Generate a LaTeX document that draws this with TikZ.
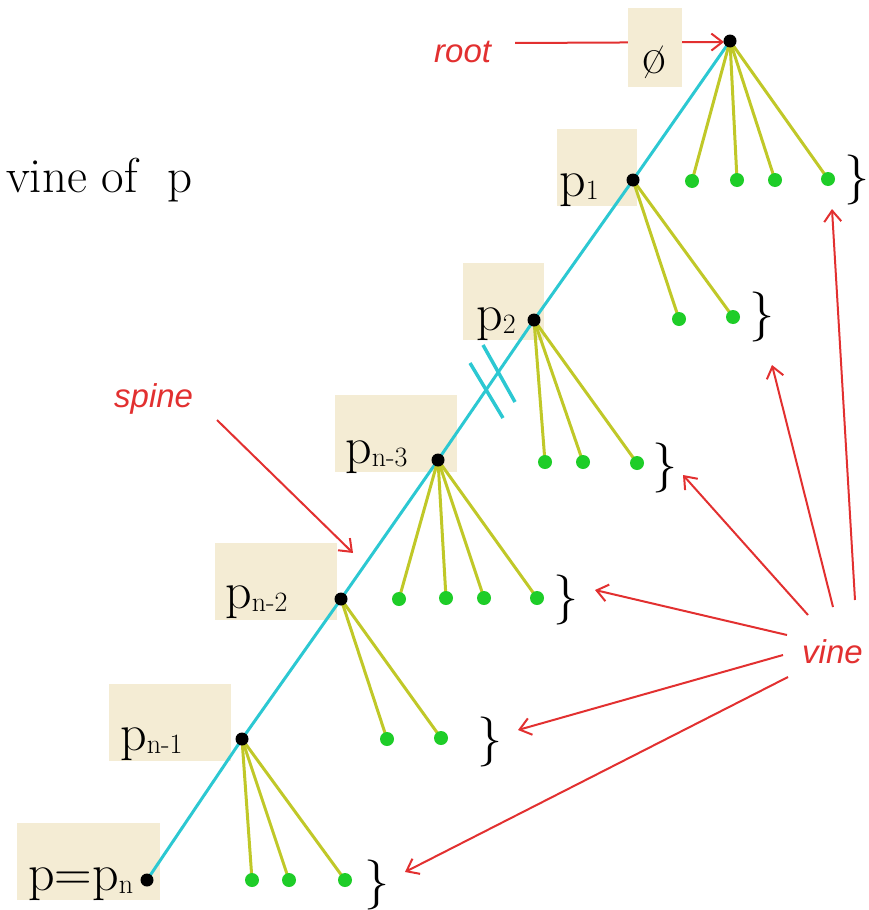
\documentclass[tikz,border=0pt]{standalone}
\usepackage{fontspec}
\newfontfamily\lsans{Liberation Sans}
\usetikzlibrary{arrows.meta}
\definecolor{spinec}{RGB}{44,200,210}
\definecolor{vinec}{RGB}{192,200,40}
\definecolor{leafc}{RGB}{30,205,40}
\definecolor{boxc}{RGB}{244,236,212}
\definecolor{redc}{RGB}{226,48,48}
\tikzset{
  labelbox/.style={fill=boxc,draw=none,inner sep=0pt,anchor=north west},
  spineline/.style={draw=spinec,line width=3pt},
  vineline/.style={draw=vinec,line width=3pt},
  blackdot/.style={circle,fill=black,inner sep=0pt,minimum size=13pt},
  leafdot/.style={circle,fill=leafc,inner sep=0pt,minimum size=14pt},
  redarrow/.style={draw=redc,line width=2pt,-{Straight Barb[length=11pt,width=17pt]}},
  bigtext/.style={font=\fontsize{52}{52}\selectfont,inner sep=0pt,anchor=base west},
  redlabel/.style={font=\lsans\itshape\fontsize{33}{33}\selectfont,text=redc,inner sep=0pt,anchor=base west},
  bracetext/.style={font=\fontsize{50}{50}\selectfont,inner sep=0pt},
}
\newcommand{\vsubs}[1]{\raisebox{-3pt}{\fontsize{28}{28}\selectfont #1}}
\begin{document}
\begin{tikzpicture}[x=1pt,y=-1pt]
\useasboundingbox (0,0) rectangle (868,910);
% spine positions
\coordinate (r) at (730,41);
\coordinate (s1) at (633,180);
\coordinate (s2) at (534,320);
\coordinate (s3) at (438,460);
\coordinate (s4) at (341,599);
\coordinate (s5) at (242,739);
\coordinate (s6) at (147,880);
% leaves
\coordinate (r1) at (692,181);
\coordinate (r2) at (737,180);
\coordinate (r3) at (775,180);
\coordinate (r4) at (828,179);
\coordinate (a1) at (679,319);
\coordinate (a2) at (733,317);
\coordinate (b1) at (545,462);
\coordinate (b2) at (583,462);
\coordinate (b3) at (637,463);
\coordinate (c1) at (399,599);
\coordinate (c2) at (446,598);
\coordinate (c3) at (484,598);
\coordinate (c4) at (537,598);
\coordinate (d1) at (387,739);
\coordinate (d2) at (441,738);
\coordinate (e1) at (252,880);
\coordinate (e2) at (289,880);
\coordinate (e3) at (345,880);
% arrow ends
\coordinate (roottail) at (515,43);
\coordinate (roottip) at (724,42);
\coordinate (spinetail) at (217,420);
\coordinate (spinetip) at (353,553);
\coordinate (v1t) at (855,600);  \coordinate (v1h) at (832,209);
\coordinate (v2t) at (833,607);  \coordinate (v2h) at (772,365);
\coordinate (v3t) at (808,615);  \coordinate (v3h) at (683,475);
\coordinate (v4t) at (787,635);  \coordinate (v4h) at (595,590);
\coordinate (v5t) at (783,655);  \coordinate (v5h) at (518,730);
\coordinate (v6t) at (788,677);  \coordinate (v6h) at (405,872);
% slash marks
\coordinate (k1a) at (470,363); \coordinate (k1b) at (503,418);
\coordinate (k2a) at (483,345); \coordinate (k2b) at (515,402);

% red arrows
\draw[redarrow] (roottail) -- (roottip);
\draw[redarrow] (spinetail) -- (spinetip);
\foreach \i in {1,...,6} { \draw[redarrow] (v\i t) -- (v\i h); }

% label boxes
\node[labelbox,minimum width=54pt,minimum height=79pt] (box0) at (628,8) {};
\node[labelbox,minimum width=80pt,minimum height=77pt] (box1) at (557,129) {};
\node[labelbox,minimum width=81pt,minimum height=77pt] (box2) at (463,263) {};
\node[labelbox,minimum width=122pt,minimum height=77pt] (box3) at (335,395) {};
\node[labelbox,minimum width=122pt,minimum height=77pt] (box4) at (215,543) {};
\node[labelbox,minimum width=122pt,minimum height=77pt] (box5) at (109,684) {};
\node[labelbox,minimum width=143pt,minimum height=77pt] (box6) at (17,823) {};

% spine
\draw[spineline] (r) -- (s1) -- (s2) -- (s3) -- (s4) -- (s5) -- (s6);
\draw[spineline,line width=3.5pt] (k1a) -- (k1b);
\draw[spineline,line width=3.5pt] (k2a) -- (k2b);

% vines
\foreach \l in {r1,r2,r3,r4} { \draw[vineline] (r) -- (\l); }
\foreach \l in {a1,a2} { \draw[vineline] (s1) -- (\l); }
\foreach \l in {b1,b2,b3} { \draw[vineline] (s2) -- (\l); }
\foreach \l in {c1,c2,c3,c4} { \draw[vineline] (s3) -- (\l); }
\foreach \l in {d1,d2} { \draw[vineline] (s4) -- (\l); }
\foreach \l in {e1,e2,e3} { \draw[vineline] (s5) -- (\l); }

% dots
\foreach \n in {r,s1,s2,s3,s4,s5,s6} { \node[blackdot] (dot\n) at (\n) {}; }
\foreach \n in {r1,r2,r3,r4,a1,a2,b1,b2,b3,c1,c2,c3,c4,d1,d2,e1,e2,e3} { \node[leafdot] (dot\n) at (\n) {}; }

% labels
\node[bigtext,anchor=base] (t0) at (654,73) {\o};
\node[bigtext] (t1) at (559,196) {p\vsubs{1}};
\node[bigtext] (t2) at (476,330) {p\vsubs{2}};
\node[bigtext] (t3) at (345,463) {p\vsubs{n-3}};
\node[bigtext] (t4) at (225,608) {p\vsubs{n-2}};
\node[bigtext] (t5) at (120,750) {p\vsubs{n-1}};
\node[bigtext] (t6) at (28,890) {p=p\vsubs{n}};
\node[bigtext,font=\fontsize{49}{49}\selectfont] (title) at (6,192) {vine of\ \ p};

% braces
\node[bracetext] (br0) at (857,180) {\}};
\node[bracetext] (br1) at (762,317) {\}};
\node[bracetext] (br2) at (665,468) {\}};
\node[bracetext] (br3) at (566,600) {\}};
\node[bracetext] (br4) at (490,742) {\}};
\node[bracetext] (br5) at (377,885) {\}};

% red labels
\node[redlabel] (rootlbl) at (434,62) {root};
\node[redlabel] (spinelbl) at (114,407) {spine};
\node[redlabel] (vinelbl) at (802,663) {vine};
\end{tikzpicture}
\end{document}
